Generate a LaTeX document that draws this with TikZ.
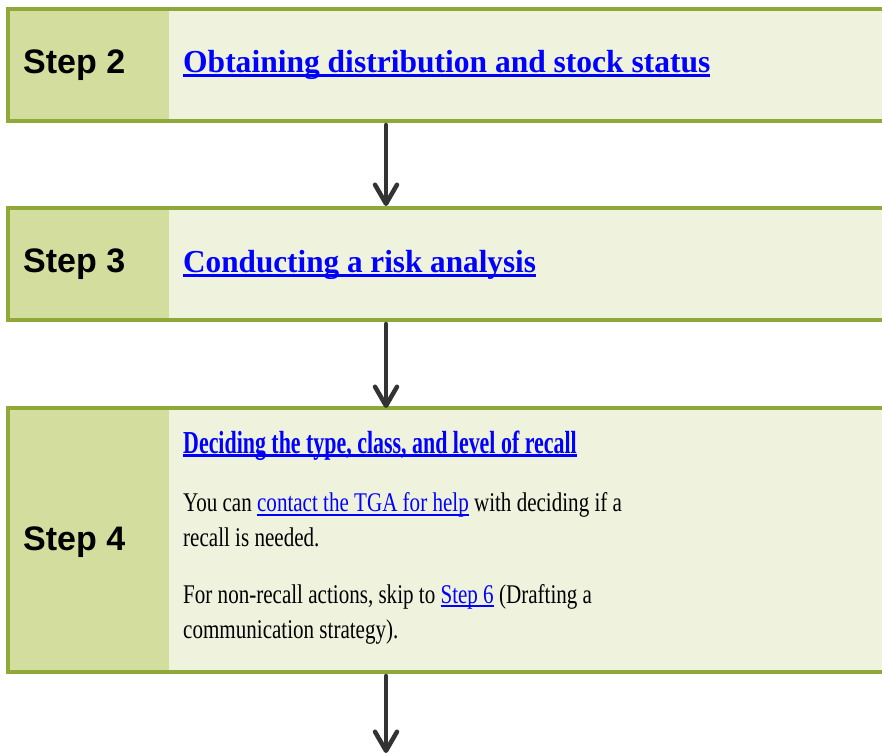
\documentclass[tikz,border=0pt]{standalone}
\usepackage{fontspec}
\setmainfont{Liberation Serif}
\newfontfamily\stepfont{Liberation Sans}
\usetikzlibrary{arrows.meta}
\definecolor{boxborder}{HTML}{8EA83A}
\definecolor{boxleft}{HTML}{D3DE9E}
\definecolor{boxright}{HTML}{EFF3DE}
\definecolor{arrowgray}{HTML}{333333}
\definecolor{linkblue}{HTML}{0000FF}
\newcommand\ulink[3]{{\color{linkblue}\setbox0\hbox{#3}\rlap{\rule[#1]{\wd0}{#2}}\box0}}
\newcommand\headlink[1]{\ulink{-4.3pt}{3pt}{\bfseries #1}}
\newcommand\bodylink[1]{\ulink{-3.9pt}{1.7pt}{#1}}
\tikzset{
  stepbox/.style={draw=boxborder, fill=boxright, line width=4pt, anchor=north west,
    minimum width=900pt, minimum height=112pt, inner sep=0pt,
    path picture={\fill[boxleft] (path picture bounding box.north west) rectangle
      ([xshift=161pt]path picture bounding box.south west);}},
  steplabel/.style={anchor=base west, inner sep=0pt, font=\stepfont\bfseries\fontsize{34}{40}\selectfont},
  heading/.style={anchor=base west, inner sep=0pt, font=\fontsize{32}{38}\selectfont},
  bodytext/.style={anchor=base west, inner sep=0pt, align=left, font=\fontsize{27}{35}\selectfont},
  flowarrow/.style={draw=arrowgray, line width=4.5pt, line cap=round,
    -{Straight Barb[length=19pt,width=22pt,round]}}
}
\begin{document}
\begin{tikzpicture}[x=1pt,y=-1pt]
\useasboundingbox (0,0) rectangle (882,753);
\clip (0,0) rectangle (882,753);
% boxes
\node[stepbox] (b2) at (6,7) {};
\node[stepbox] (b3) at (6,206) {};
\node[stepbox, minimum height=264pt] (b4) at (6,406) {};
% labels
\node[steplabel] (s2) at (23,73) {Step 2};
\node[steplabel] (s3) at (23,272.7) {Step 3};
\node[steplabel] (s4) at (23,550) {Step 4};
% headings
\node[heading] (h2) at (183,72.7) {\scalebox{0.985}[1]{\headlink{Obtaining distribution and stock status}}};
\node[heading] (h3) at (183,272.7) {\scalebox{0.975}[1]{\headlink{Conducting a risk analysis}}};
\node[heading] (h4) at (183,453) {\scalebox{0.685}[1]{\headlink{Deciding the type, class, and level of recall}}};
% body
\node[bodytext] (p1) at (183,511.7) {\scalebox{0.78}[1]{\parbox[t]{700pt}{\raggedright\fontsize{27}{35}\selectfont You can \bodylink{contact the TGA for help} with deciding if a\\ recall is needed.}}};
\node[bodytext] (p2) at (183,603) {\scalebox{0.78}[1]{\parbox[t]{700pt}{\raggedright\fontsize{27}{35}\selectfont For non-recall actions, skip to \bodylink{Step 6} (Drafting a\\ communication strategy).}}};
% arrows
\coordinate (ax) at (386,0);
\coordinate (end4) at (386,753);
\draw[flowarrow, shorten <=2pt] (b2.south -| ax) -- (b3.north -| ax);
\draw[flowarrow, shorten <=2pt] (b3.south -| ax) -- ([yshift=-2pt]b4.north -| ax);
\draw[flowarrow, shorten <=2pt] (b4.south -| ax) -- (end4);
\end{tikzpicture}
\end{document}
